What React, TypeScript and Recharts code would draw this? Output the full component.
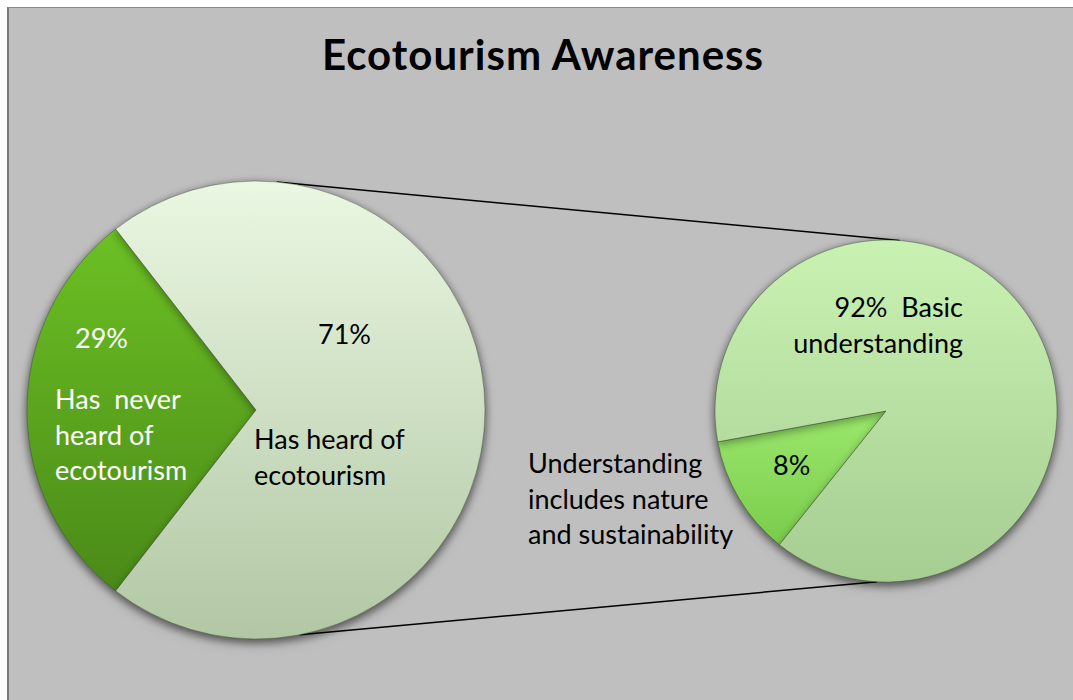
import React from 'react';
import { PieChart, Pie, Cell, Customized } from 'recharts';

// main pie: share of respondents (%)
const awarenessNames = ['Has never heard of ecotourism', 'Has heard of ecotourism'];
const awarenessValues = [29, 71];
const awarenessLabels = ['29%', '71%'];

// secondary pie: what "heard of it" means (slice shares as drawn)
const detailNames = ['Understanding includes nature and sustainability', 'Basic understanding'];
const detailValues = [11.4, 88.6];
const detailLabels = ['8%', '92%'];

const awarenessData = awarenessNames.map((name, i) => ({ name, value: awarenessValues[i] }));
const detailData = detailNames.map((name, i) => ({ name, value: detailValues[i] }));

const FONT = 'Lato, "Open Sans", sans-serif';
const LEFT = { cx: 256, cy: 410, r: 229 };
const RIGHT = { cx: 886, cy: 411, r: 171 };

// label blocks per slice, offsets from the pie centre
const leftText = [
  [
    { lines: [awarenessLabels[0]], dx: -181, dy: -62, fill: '#fff', anchor: 'start' },
    { lines: ['Has  never', 'heard of', 'ecotourism'], dx: -201, dy: -1, fill: '#fff', anchor: 'start' },
  ],
  [
    { lines: [awarenessLabels[1]], dx: 62, dy: -66, fill: '#000', anchor: 'start' },
    { lines: ['Has heard of', 'ecotourism'], dx: -2, dy: 39, fill: '#000', anchor: 'start' },
  ],
];
const rightText = [
  [
    { lines: [detailLabels[0]], dx: -113, dy: 64, fill: '#000', anchor: 'start' },
    { lines: ['Understanding', 'includes nature', 'and sustainability'], dx: -358, dy: 62, fill: '#000', anchor: 'start' },
  ],
  [{ lines: [detailLabels[1] + '  Basic', 'understanding'], dx: 77, dy: -94, fill: '#000', anchor: 'end' }],
];

const TextBlock = ({ x, y, lines, fill, anchor }: any) => (
  <text x={x} y={y} fill={fill} textAnchor={anchor} fontFamily={FONT} fontSize={27} style={{ whiteSpace: 'pre' }}>
    {lines.map((l: string, i: number) => (
      <tspan key={i} x={x} y={y + i * 35.5}>{l}</tspan>
    ))}
  </text>
);

const makeLabel = (blocks: any[][]) => (props: any) => {
  const { cx, cy, index } = props;
  return (
    <g>
      {blocks[index].map((t, i) => (
        <TextBlock key={i} x={cx + t.dx} y={cy + t.dy} lines={t.lines} fill={t.fill} anchor={t.anchor} />
      ))}
    </g>
  );
};

const pt = (c: { cx: number; cy: number; r: number }, deg: number) => {
  const a = (deg * Math.PI) / 180;
  return [c.cx + c.r * Math.cos(a), c.cy - c.r * Math.sin(a)];
};

const Overlay = () => {
  const [x1, y1] = pt(LEFT, 84.8);
  const [x2, y2] = pt(RIGHT, 85.4);
  const [x3, y3] = pt(LEFT, 281);
  const [x4, y4] = pt(RIGHT, 267);
  return (
    <g>
      <line x1={x1} y1={y1} x2={x2} y2={y2} stroke="#000" strokeWidth={1.5} />
      <line x1={x3} y1={y3} x2={x4} y2={y4} stroke="#000" strokeWidth={1.5} />
      <text x={543} y={70} textAnchor="middle" fontFamily={FONT} fontWeight={700} fontSize={42} letterSpacing={1} fill="#000">
        Ecotourism Awareness
      </text>
    </g>
  );
};

export default function App() {
  return (
    <div style={{ position: 'relative', width: 1073, height: 700, overflow: 'hidden', background: '#fff' }}>
      <style>{`body{margin:0} .pieShadow{filter:drop-shadow(0 3px 4px rgba(0,0,0,0.35))}`}</style>
      <div
        style={{
          position: 'absolute', left: 7, top: 7, width: 1100, height: 720, background: '#bfbfbf',
          borderLeft: '2px solid #7a7a7a', borderTop: '1px solid #8a8a8a',
        }}
      />
      <div style={{ position: 'absolute', left: 0, top: 0 }}>
        <PieChart width={1073} height={700} margin={{ top: 0, right: 0, bottom: 0, left: 0 }}>
          <defs>
            <linearGradient id="gDark" x1="0" y1="0" x2="0" y2="1">
              <stop offset="0%" stopColor="#6cc024" />
              <stop offset="100%" stopColor="#4a8a18" />
            </linearGradient>
            <linearGradient id="gPale" x1="0" y1="0" x2="0" y2="1">
              <stop offset="0%" stopColor="#eaf7e2" />
              <stop offset="100%" stopColor="#b2c7a4" />
            </linearGradient>
            <linearGradient id="gMid" x1="0" y1="0" x2="0" y2="1">
              <stop offset="0%" stopColor="#c9f2b2" />
              <stop offset="100%" stopColor="#a6cd92" />
            </linearGradient>
            <linearGradient id="gBright" x1="0" y1="0" x2="0" y2="1">
              <stop offset="0%" stopColor="#9ae86c" />
              <stop offset="100%" stopColor="#7acb4c" />
            </linearGradient>
          </defs>
          <Customized component={Overlay} />
          <Pie
            data={awarenessData}
            dataKey="value"
            nameKey="name"
            cx={LEFT.cx}
            cy={LEFT.cy}
            outerRadius={LEFT.r}
            startAngle={127.8}
            endAngle={487.8}
            stroke="rgba(60,80,50,0.45)"
            strokeWidth={1}
            className="pieShadow"
            label={makeLabel(leftText)}
            labelLine={false}
            isAnimationActive={false}
          >
            <Cell fill="url(#gDark)" />
            <Cell fill="url(#gPale)" />
          </Pie>
          <Pie
            data={detailData}
            dataKey="value"
            nameKey="name"
            cx={RIGHT.cx}
            cy={RIGHT.cy}
            outerRadius={RIGHT.r}
            startAngle={190.4}
            endAngle={550.4}
            stroke="rgba(60,80,50,0.45)"
            strokeWidth={1}
            className="pieShadow"
            label={makeLabel(rightText)}
            labelLine={false}
            isAnimationActive={false}
          >
            <Cell fill="url(#gBright)" />
            <Cell fill="url(#gMid)" />
          </Pie>
        </PieChart>
      </div>
    </div>
  );
}
